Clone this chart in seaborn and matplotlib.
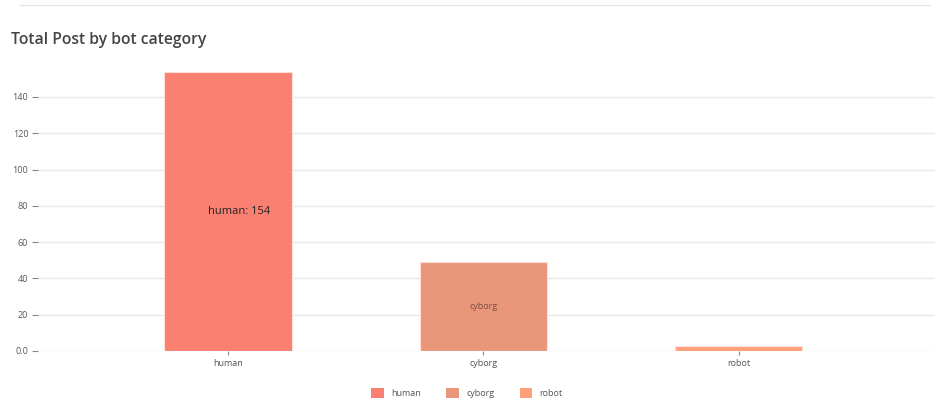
import matplotlib
matplotlib.use("Agg")
import matplotlib.pyplot as plt
import seaborn as sns
import pandas as pd
from matplotlib.patches import Patch
from matplotlib.lines import Line2D

categories = ["human", "cyborg", "robot"]
total_posts = [154, 49, 3]
bar_colors = ["#FA8072", "#E9967A", "#FFA07A"]
ytick_values = [0, 20, 40, 60, 80, 100, 120, 140]
ytick_labels = ["0.0", "20", "40", "60", "80", "100", "120", "140"]
title = "Total Post by bot category"

sns.set_theme(style="white")
plt.rcParams["font.family"] = ["Open Sans", "DejaVu Sans"]

df = pd.DataFrame({"category": categories, "posts": total_posts})

fig = plt.figure(figsize=(9.4, 4.07), dpi=100)
ax = fig.add_axes([38 / 940, 1 - 351 / 407, (935 - 38) / 940, (351 - 57) / 407])

sns.barplot(data=df, x="category", y="posts", hue="category",
            palette=dict(zip(categories, bar_colors)), width=0.5, saturation=1,
            dodge=False, legend=False, ax=ax, edgecolor="#fde0da", linewidth=0.8)

ax.set_xlim(-0.745, 2.77)
ax.set_ylim(0, 162)
ax.set_yticks(ytick_values)
ax.set_yticklabels(ytick_labels)
ax.set_xlabel("")
ax.set_ylabel("")
for s in ax.spines.values():
    s.set_visible(False)
ax.yaxis.grid(True, color="#e8e8e8", linewidth=1)
ax.set_axisbelow(True)
ax.tick_params(axis="both", which="both", length=4, width=0.8, color="#888888",
               labelsize=6.5, labelcolor="#555555", pad=3)
ax.tick_params(axis="x", bottom=True, length=3)
ax.tick_params(axis="y", left=True)

# labels inside bars
ax.text(0.045, total_posts[0] / 2, f"{categories[0]}: {total_posts[0]}", ha="center",
        va="center", fontsize=8, color="#222222")
ax.text(1, total_posts[1] / 2, categories[1], ha="center", va="center",
        fontsize=6.5, color="#7a5040")

fig.text(11 / 940, 1 - 40 / 407, title, ha="left", va="center", fontsize=11.3,
         fontweight="semibold", color="#444444")

fig.add_artist(Line2D([20 / 940, 930 / 940], [1 - 5 / 407, 1 - 5 / 407],
                      color="#e6e6e6", linewidth=1))

handles = [Patch(facecolor=c, edgecolor="none", label=l) for l, c in zip(categories, bar_colors)]
fig.legend(handles=handles, loc="center", bbox_to_anchor=(467 / 940, 1 - 393 / 407),
           ncol=3, frameon=False, handlelength=1.4, handleheight=1.4,
           fontsize=6.5, columnspacing=2.8, handletextpad=0.8, labelcolor="#555555")

fig.savefig("out.png", dpi=100)
